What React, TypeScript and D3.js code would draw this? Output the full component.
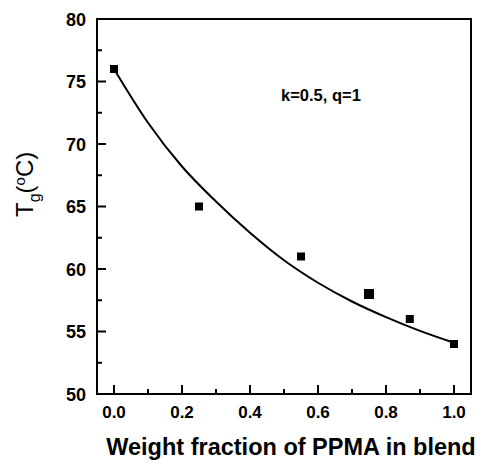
import React from "react";
import * as d3 from "d3";

const pointX = [0, 0.25, 0.55, 0.75, 0.87, 1.0];
const pointY = [76, 65, 61, 58, 56, 54];
const pointSize = [8, 8, 8, 10, 8, 8];

const fitX = [0, 0.1, 0.2, 0.3, 0.4, 0.5, 0.6, 0.7, 0.8, 0.9, 1.0];
const fitY = [76.0, 71.7, 68.2, 65.4, 62.9, 60.7, 58.9, 57.4, 56.15, 55.05, 54.1];

const xMajor = [0, 0.2, 0.4, 0.6, 0.8, 1.0];
const xMinor = [0.1, 0.3, 0.5, 0.7, 0.9];
const yMajor = [50, 55, 60, 65, 70, 75, 80];
const yMinor = [52.5, 57.5, 62.5, 67.5, 72.5, 77.5];

const W = 481, H = 466;
const L = 97, R = 471, T = 19, B = 394;

export default function App() {
  const x = d3.scaleLinear().domain([-0.05, 1.05]).range([L, R]);
  const y = d3.scaleLinear().domain([50, 80]).range([B, T]);
  const line = d3
    .line<number>()
    .x((_, i) => x(fitX[i]))
    .y((d) => y(d))
    .curve(d3.curveMonotoneX);
  const font = "'Liberation Sans', Arial, sans-serif";
  return (
    <svg
      width={W}
      height={H}
      style={{ position: "absolute", left: 0, top: 0, background: "#fff" }}
      fontFamily={font}
    >
      <rect x={0} y={0} width={W} height={H} fill="#fff" />
      <path d={line(fitY) || ""} fill="none" stroke="#000" strokeWidth={2} />
      {pointX.map((px, i) => (
        <rect
          key={i}
          x={x(px) - pointSize[i] / 2}
          y={y(pointY[i]) - pointSize[i] / 2}
          width={pointSize[i]}
          height={pointSize[i]}
          fill="#000"
        />
      ))}
      <rect x={L} y={T} width={R - L} height={B - T} fill="none" stroke="#000" strokeWidth={2} />
      {xMajor.map((v) => (
        <g key={"xm" + v}>
          <line x1={x(v)} x2={x(v)} y1={B} y2={B - 9} stroke="#000" strokeWidth={2} />
          <text x={x(v)} y={418} textAnchor="middle" fontSize={17} fontWeight="bold">
            {v.toFixed(1)}
          </text>
        </g>
      ))}
      {xMinor.map((v) => (
        <line key={"xn" + v} x1={x(v)} x2={x(v)} y1={B} y2={B - 5} stroke="#000" strokeWidth={2} />
      ))}
      {yMajor.map((v) => (
        <g key={"ym" + v}>
          <line x1={L} x2={L + 9} y1={y(v)} y2={y(v)} stroke="#000" strokeWidth={2} />
          <text x={86} y={y(v) + 6.5} textAnchor="end" fontSize={18} fontWeight="bold">
            {v}
          </text>
        </g>
      ))}
      {yMinor.map((v) => (
        <line key={"yn" + v} x1={L} x2={L + 5} y1={y(v)} y2={y(v)} stroke="#000" strokeWidth={2} />
      ))}
      <text x={281} y={101} fontSize={16.5} fontWeight="bold">
        k=0.5, q=1
      </text>
      <text x={291} y={455} textAnchor="middle" fontSize={23.5} fontWeight="bold">
        Weight fraction of PPMA in blend
      </text>
      <text transform="translate(33,217) rotate(-90)" fontSize={24}>
        <tspan>T</tspan>
        <tspan fontSize={16} dy={7}>g</tspan>
        <tspan dy={-7}>(</tspan>
        <tspan fontSize={15} dy={-8}>o</tspan>
        <tspan dy={8}>C)</tspan>
      </text>
    </svg>
  );
}
